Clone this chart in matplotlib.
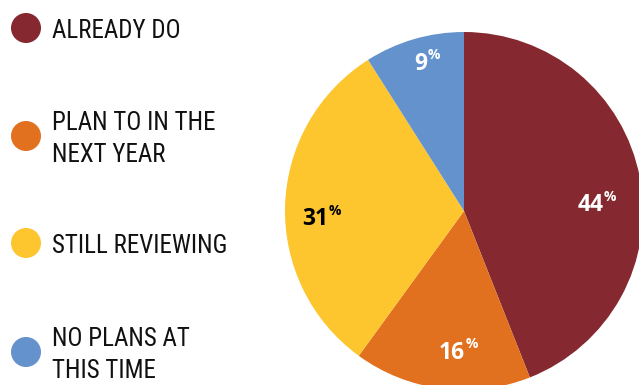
import numpy as np
import matplotlib.pyplot as plt
from matplotlib.patches import Circle

categories = ['ALREADY DO', 'PLAN TO IN THE\nNEXT YEAR', 'STILL REVIEWING', 'NO PLANS AT\nTHIS TIME']
shares = [44, 16, 31, 9]
colors = ['#852830', '#E1701F', '#FDC62F', '#6492CD']
label_colors = ['white', 'white', 'black', 'white']
label_radius = [0.78, 0.78, 0.76, 0.86]
label_turn = [-7.5, 7.6, 4.3, -2.2]

legend_font = ['Roboto Condensed', 'Noto Sans Condensed', 'Roboto', 'DejaVu Sans']
num_font = ['Open Sans', 'DejaVu Sans']

fig = plt.figure(figsize=(6.39, 3.85), dpi=100)

# pie axes placed in pixel terms: centre (464, 211), radius 179
W, H = 639, 385
cx, cy, r = 464, 211, 179
ax = fig.add_axes([(cx - r) / W, (H - cy - r) / H, 2 * r / W, 2 * r / H])
wedges, _ = ax.pie(shares, colors=colors, startangle=90, counterclock=False,
                   radius=1, wedgeprops=dict(linewidth=0))
ax.set_xlim(-1, 1)
ax.set_ylim(-1, 1)
ax.set_aspect('equal')
ax.axis('off')

# number ends at the anchor, small superscript % starts there
for w, val, col, rr, turn in zip(wedges, shares, label_colors, label_radius, label_turn):
    ang = np.deg2rad((w.theta1 + w.theta2) / 2 + turn)
    x, y = rr * np.cos(ang), rr * np.sin(ang)
    ax.annotate(str(val), (x, y), xytext=(0, -1.5), textcoords='offset points',
                ha='right', va='center', fontsize=16.5, fontweight='bold',
                color=col, family=num_font)
    ax.annotate('%', (x, y), xytext=(0.3, 4.5), textcoords='offset points',
                ha='left', va='center', fontsize=10, fontweight='bold',
                color=col, family=num_font)

# legend drawn in figure pixel coordinates
lax = fig.add_axes([0, 0, 1, 1])
lax.set_xlim(0, W)
lax.set_ylim(H, 0)
lax.axis('off')
lax.patch.set_alpha(0)

dot_y = [28, 136, 243, 352]
for cat, col, yy in zip(categories, colors, dot_y):
    lax.add_patch(Circle((26, yy), 15, color=col, lw=0))
    lines = cat.split('\n')
    base = yy + 10 - 16 * (len(lines) - 1)
    for i, line in enumerate(lines):
        lax.text(52, base + 32 * i, line, ha='left', va='baseline', fontsize=18,
                 fontstretch='condensed', color='#111111', family=legend_font)

fig.savefig('out.png', dpi=100)
